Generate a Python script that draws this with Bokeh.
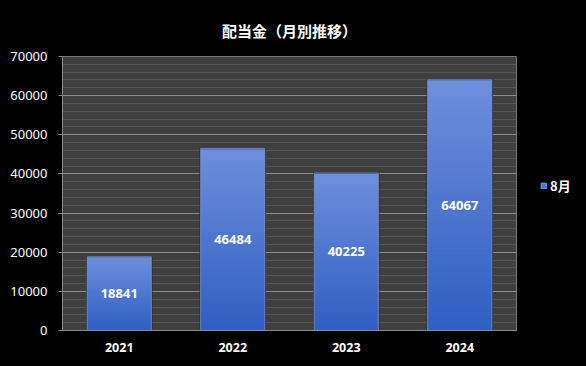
from bokeh.plotting import figure
from bokeh.layouts import row
from bokeh.models import (ColumnDataSource, SingleIntervalTicker, Legend, LegendItem,
                          NumeralTickFormatter, Range1d, FactorRange, LabelSet)
from bokeh.embed import file_html
from bokeh.resources import INLINE
from bokeh.core.properties import value

# ---- data ----
years = ["2021", "2022", "2023", "2024"]
dividends = [18841, 46484, 40225, 64067]
series_name = "8月"
title_text = "配当金（月別推移）"

H = 366
p = figure(x_range=FactorRange(*years, range_padding=0), y_range=Range1d(0, 70000),
           width=518, height=H, output_backend="svg", toolbar_location=None,
           min_border_left=62, min_border_right=2, min_border_top=56, min_border_bottom=36)

p.background_fill_color = "#3f3f3f"
p.border_fill_color = "black"
p.outline_line_color = "#7a7a7a"

# gradient bars built from the data values
N = 50
top_c = (0x6e, 0x8e, 0xdc)
bot_c = (0x2f, 0x5e, 0xc2)
xs, bots, tops, cols = [], [], [], []
for yr, v in zip(years, dividends):
    for k in range(N):
        f = (k + 0.5) / N
        c = tuple(int(round(bot_c[i] + (top_c[i] - bot_c[i]) * f)) for i in range(3))
        xs.append(yr)
        bots.append(v * k / N)
        tops.append(v * min(k + 1.6, N) / N)
        cols.append("#%02x%02x%02x" % c)
seg = ColumnDataSource(dict(x=xs, bottom=bots, top=tops, color=cols))
p.vbar(x="x", bottom="bottom", top="top", width=0.57, source=seg,
       fill_color="color", line_color=None)

src = ColumnDataSource(dict(x=years, top=dividends, mid=[v / 2 for v in dividends],
                            lab=[str(v) for v in dividends]))
p.vbar(x="x", top="top", width=0.575, source=src, fill_alpha=0,
       line_color="#2a2a2a", line_width=1.2)
p.vbar(x="x", top="top", width=0.565, source=src, fill_alpha=0,
       line_color="#7f9be0", line_width=0.8)

labels = LabelSet(x="x", y="mid", text="lab", source=src, text_color="white",
                  text_align="center", text_baseline="middle", text_font_size="13px",
                  text_font=value("Noto Sans"), text_font_style="bold")
p.add_layout(labels)

# title
p.title.text = title_text
p.title.align = "center"
p.title.text_color = "white"
p.title.text_font = "Noto Sans CJK JP"
p.title.text_font_size = "15px"
p.title.text_font_style = "bold"
p.title.standoff = 32

# axes
p.yaxis.ticker = SingleIntervalTicker(interval=10000, num_minor_ticks=5)
p.yaxis.formatter = NumeralTickFormatter(format="0")
p.yaxis.major_label_text_color = "white"
p.yaxis.major_label_text_font = "Noto Sans"
p.yaxis.major_label_text_font_size = "13px"
p.yaxis.major_tick_out = 4
p.yaxis.major_tick_in = 0
p.yaxis.major_tick_line_color = "#8a8a8a"
p.yaxis.minor_tick_line_color = None
p.yaxis.axis_line_color = "#8a8a8a"
p.yaxis.major_label_standoff = 11

p.xaxis.major_label_text_color = "white"
p.xaxis.major_label_text_font = "Noto Sans"
p.xaxis.major_label_text_font_size = "12.5px"
p.xaxis.major_label_text_font_style = "bold"
p.xaxis.major_tick_line_color = None
p.xaxis.minor_tick_line_color = None
p.xaxis.axis_line_color = "#8a8a8a"
p.xaxis.major_label_standoff = 6

p.xgrid.grid_line_color = None
p.ygrid.grid_line_color = "#8c8c8c"
p.ygrid.minor_grid_line_color = "#555555"

# legend panel to the right of the plot
q = figure(width=68, height=H, output_backend="svg", toolbar_location=None,
           x_range=Range1d(0, 1), y_range=Range1d(0, 1),
           x_axis_type=None, y_axis_type=None,
           min_border_left=0, min_border_right=0, min_border_top=56, min_border_bottom=36)
q.background_fill_color = "black"
q.border_fill_color = "black"
q.outline_line_color = None
q.xgrid.grid_line_color = None
q.ygrid.grid_line_color = None
leg_r = q.quad(left=[-5], right=[-4], bottom=[-5], top=[-4],
               fill_color="#4a74d0", line_color="#8aa4e4", line_width=1)
legend = Legend(items=[LegendItem(label=series_name, renderers=[leg_r])],
                location=(22, 135), background_fill_alpha=0, border_line_alpha=0,
                label_text_color="white", label_text_font="Noto Sans CJK JP",
                label_text_font_size="13px", label_text_font_style="bold",
                glyph_width=7, glyph_height=7, label_standoff=3, padding=0, margin=0)
q.add_layout(legend, "center")

layout = row(p, q, spacing=0, styles={"background-color": "black"})
open("out.html", "w").write(file_html(layout, INLINE))
